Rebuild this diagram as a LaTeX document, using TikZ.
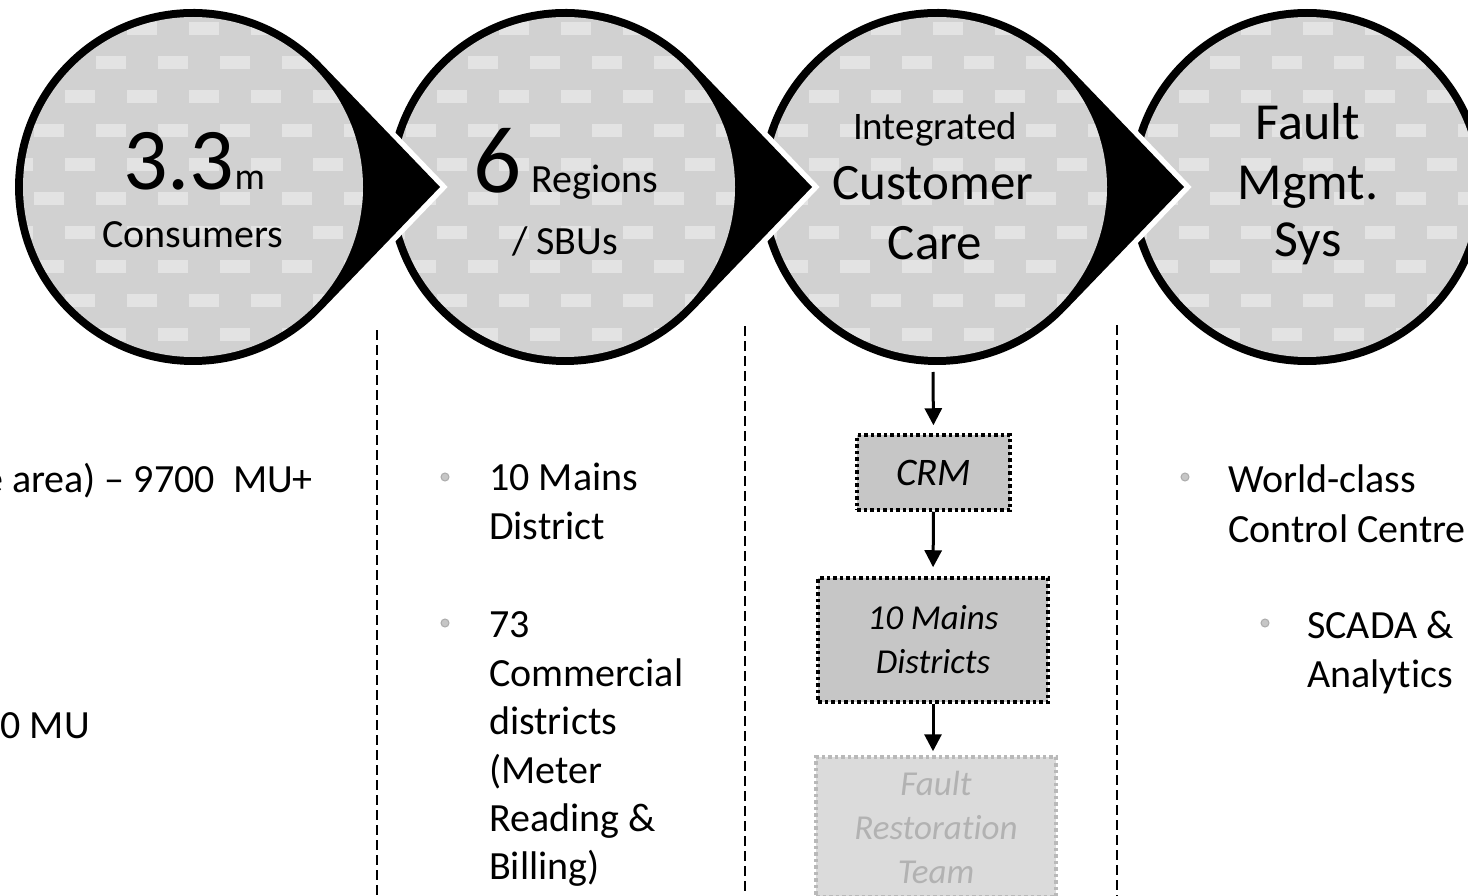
\documentclass[tikz,border=0pt]{standalone}
\usepackage{fontspec}
\setmainfont{Carlito}[Ligatures={NoCommon}]
\usetikzlibrary{arrows.meta}
\colorlet{circfill}{gray!36}
\newcommand\fs[1]{\fontsize{#1}{#1}\selectfont}
\newcommand\circbody[1]{%
  \fill[circfill] (#1,187) circle[radius=170];
  \begin{scope}
    \clip (#1,187) circle[radius=170];
    \foreach \r in {0,...,10}{\foreach \c in {0,...,6}{
      \fill[white,opacity=.4] ({#1-190+\c*62+mod(\r,2)*31},{22+\r*34}) rectangle ++(30,13);
    }}
  \end{scope}}
\newcommand\tear[1]{%
  \path[draw=white,line width=11pt] (#1+247,187) -- (#1+128.3,310.4) arc[start angle=43.9,end angle=316.1,radius=178] -- cycle;
  \fill[black] (#1+247,187) -- (#1+128.3,310.4) arc[start angle=43.9,end angle=316.1,radius=178] -- cycle;
  \circbody{#1}}
\begin{document}
\begin{tikzpicture}[x=1pt,y=-1pt,
  txt/.style={inner sep=0pt,anchor=base,font=\fs{40}},
  body/.style={inner sep=0pt,anchor=base west,font=\fs{40}},
  bul/.style={circle,fill=gray!45,draw=gray!65,line width=1pt,minimum size=8pt,inner sep=0pt},
  sep/.style={line width=1.4pt,dash pattern=on 10pt off 5pt},
  arr/.style={line width=3pt,-{Triangle[width=17pt,length=17pt]}},
  dotbox/.style={draw,line width=3.5pt,dash pattern=on 3.5pt off 3pt,fill=gray!45,inner sep=0pt,align=center,font=\itshape\fontsize{35}{44}\selectfont}]
\useasboundingbox (0,0) rectangle (1468,896);
\clip (0,0) rectangle (1468,896);
\fill[white] (0,0) rectangle (1468,896);

% circles, drawn right to left
\fill[black] (1307,187) circle[radius=178];
\circbody{1307}
\tear{937}
\tear{565}
\tear{193}

\node[circle,minimum size=356pt,inner sep=0pt] (c1) at (193,187) {};
\node[circle,minimum size=356pt,inner sep=0pt] (c2) at (565,187) {};
\node[circle,minimum size=356pt,inner sep=0pt] (c3) at (937,187) {};
\node[circle,minimum size=356pt,inner sep=0pt] (c4) at (1307,187) {};

% circle texts
\node[txt] (t33) at (194,190) {{\fs{88}3.3}{\fs{38}m}};
\node[txt] (tcons) at (193,248) {Consumers};
\node[txt] (t6) at (566,193) {{\fs{95}6}\hspace{10pt}Regions};
\node[txt] (tsbu) at (565,255) {/ SBUs};
\node[txt,font=\fs{39}] (tint) at (935,140) {Integrated};
\node[txt,font=\fs{51}] (tcust) at (933,200) {Customer};
\node[txt,font=\fs{51}] (tcare) at (935,260) {Care};
\node[txt,font=\fs{52}] (tfault) at (1308,140) {Fault};
\node[txt,font=\fs{52}] (tmgmt) at (1308,200) {Mgmt.};
\node[txt,font=\fs{52}] (tsys) at (1308,257) {Sys};

% separators
\draw[sep] (377,330) -- (377,896);
\draw[sep] (745,326) -- (745,896);
\draw[sep] (1117,325) -- (1117,896);

% left column
\node[txt,anchor=base east] (l1) at (313,492) {e area) – 9700\ \ MU+};
\node[txt,anchor=base east] (l2) at (90,738) {0 MU};

% second column
\node[bul] (b1) at (445,477) {};
\node[bul] (b2) at (445,623) {};
\node[body] (m1) at (489,490) {10 Mains};
\node[body] (m2) at (489,539) {District};
\node[body] (m3) at (489,637) {73};
\node[body] (m4) at (489,686) {Commercial};
\node[body] (m5) at (489,734) {districts};
\node[body] (m6) at (489,783) {(Meter};
\node[body] (m7) at (489,831) {Reading \&};
\node[body] (m8) at (489,879) {Billing)};

% third column
\coordinate (a0) at (933,372);
\node[dotbox,minimum width=153pt,minimum height=75pt,font=\itshape\fs{39}] (crm) at (933.5,472.5) {CRM};
\node[dotbox,minimum width=230pt,minimum height=124pt] (m10) at (933,640) {10 Mains\\Districts};
\node[dotbox,draw=gray!55,fill=gray!28,text=gray!60,minimum width=240pt,minimum height=140pt] (frt) at (936,827) {Fault\\Restoration\\Team};
\draw[arr,shorten >=8pt] (a0) -- (crm.north);
\draw[arr,shorten >=9pt] (crm.south) -- (m10.north);
\draw[arr,shorten >=4pt] (m10.south) -- (m10.south |- frt.north);

% fourth column
\node[bul] (b3) at (1185,477) {};
\node[bul] (b4) at (1265,623) {};
\node[body] (r1) at (1228,492) {World-class};
\node[body] (r2) at (1228,542) {Control Centre};
\node[body] (r3) at (1307,638) {SCADA \&};
\node[body] (r4) at (1307,687) {Analytics};
\end{tikzpicture}
\end{document}
